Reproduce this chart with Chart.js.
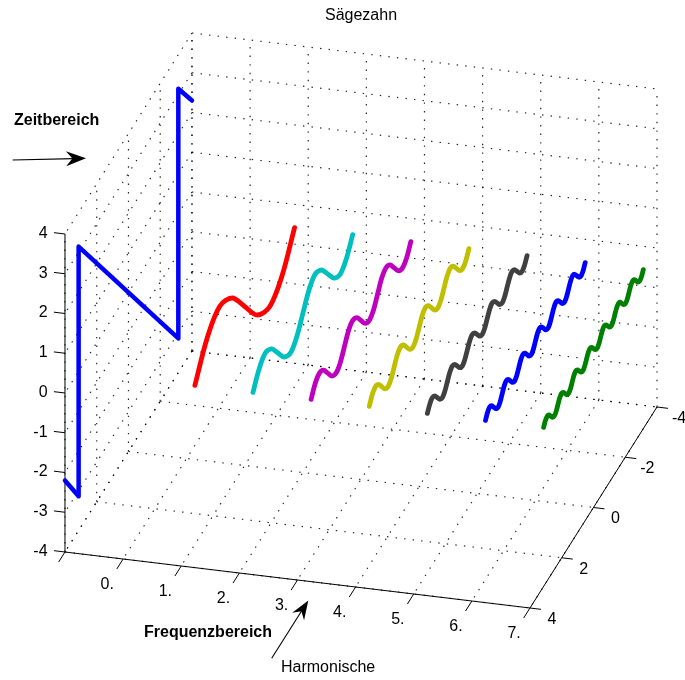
<!DOCTYPE html>
<html>
<head>
<meta charset="utf-8">
<script src="https://cdn.jsdelivr.net/npm/chart.js@4.4.0/dist/chart.umd.min.js"></script>
<style>
  html, body { margin: 0; padding: 0; background: #fff; }
  #wrap { width: 685px; height: 680px; }
</style>
</head>
<body>
<div id="wrap"><canvas id="chart" width="685" height="680"></canvas></div>
<script>
// Sägezahn: Zeitbereich (linke Wand) und die einzelnen Harmonischen

// Achsen
const xTicks = [-1, 0, 1, 2, 3, 4, 5, 6, 7];
const xTickLabels = ['', '0.', '1.', '2.', '3.', '4.', '5.', '6.', '7.'];
const yTicks = [-4, -2, 0, 2, 4];
const zTicks = [-4, -3, -2, -1, 0, 1, 2, 3, 4];

// Zeitbereich: Sägezahn in der Ebene x = -1
const sawTime = [4, 3.14, 3.14, -3.14, -3.14, -4];
const sawValue = [-2.2, -3.14, 3.14, -3.14, 3.14, 2.3];

// Harmonische: Position auf der Frequenzachse
const harmonicNr = [1, 2, 3, 4, 5, 6, 7];
const harmTimeFrom = -3.14;
const harmTimeTo = 3.14;

const harm1 = [0, -0.71, -1, -0.71, 0, 0.71, 1, 0.71, 0];
const harm2 = [
    0, -0.35, -0.5, -0.35, 0, 0.35, 0.5, 0.35,
    0, -0.35, -0.5, -0.35, 0, 0.35, 0.5, 0.35, 0];
const harm3 = [
    0, -0.24, -0.33, -0.24, 0, 0.24, 0.33, 0.24,
    0, -0.24, -0.33, -0.24, 0, 0.24, 0.33, 0.24,
    0, -0.24, -0.33, -0.24, 0, 0.24, 0.33, 0.24, 0];
const harm4 = [
    0, -0.18, -0.25, -0.18, 0, 0.18, 0.25, 0.18,
    0, -0.18, -0.25, -0.18, 0, 0.18, 0.25, 0.18,
    0, -0.18, -0.25, -0.18, 0, 0.18, 0.25, 0.18,
    0, -0.18, -0.25, -0.18, 0, 0.18, 0.25, 0.18, 0];
const harm5 = [
    0, -0.14, -0.2, -0.14, 0, 0.14, 0.2, 0.14,
    0, -0.14, -0.2, -0.14, 0, 0.14, 0.2, 0.14,
    0, -0.14, -0.2, -0.14, 0, 0.14, 0.2, 0.14,
    0, -0.14, -0.2, -0.14, 0, 0.14, 0.2, 0.14,
    0, -0.14, -0.2, -0.14, 0, 0.14, 0.2, 0.14, 0];
const harm6 = [
    0, -0.12, -0.17, -0.12, 0, 0.12, 0.17, 0.12,
    0, -0.12, -0.17, -0.12, 0, 0.12, 0.17, 0.12,
    0, -0.12, -0.17, -0.12, 0, 0.12, 0.17, 0.12,
    0, -0.12, -0.17, -0.12, 0, 0.12, 0.17, 0.12,
    0, -0.12, -0.17, -0.12, 0, 0.12, 0.17, 0.12,
    0, -0.12, -0.17, -0.12, 0, 0.12, 0.17, 0.12, 0];
const harm7 = [
    0, -0.1, -0.14, -0.1, 0, 0.1, 0.14, 0.1,
    0, -0.1, -0.14, -0.1, 0, 0.1, 0.14, 0.1,
    0, -0.1, -0.14, -0.1, 0, 0.1, 0.14, 0.1,
    0, -0.1, -0.14, -0.1, 0, 0.1, 0.14, 0.1,
    0, -0.1, -0.14, -0.1, 0, 0.1, 0.14, 0.1,
    0, -0.1, -0.14, -0.1, 0, 0.1, 0.14, 0.1,
    0, -0.1, -0.14, -0.1, 0, 0.1, 0.14, 0.1, 0];
const harmValues = [harm1, harm2, harm3, harm4, harm5, harm6, harm7];

// Farben wie die alte MATLAB-Farbreihenfolge
const sawColor = '#0000ff';
const harmColors = ['#ff0000', '#00bfbf', '#bf00bf', '#bfbf00', '#404040', '#0000ff', '#008000'];

// Orthographische Projektion der 3D-Achsen auf die Zeichenebene
const view = {
    ox: 186.6, oy: 299.5,
    ex: [58.125, 7.0],
    ey: [-15.875, 25.125],
    ez: [0, -39.75]
};
const xLim = [-1, 7], yLim = [-4, 4], zLim = [-4, 4];

function project(x, y, z) {
    return {
        x: view.ox + x * view.ex[0] + y * view.ey[0] + z * view.ez[0],
        y: view.oy + x * view.ex[1] + y * view.ey[1] + z * view.ez[1]
    };
}

const datasets = [];

function addLine(points3d, style) {
    datasets.push(Object.assign({
        data: points3d.map(p => project(p[0], p[1], p[2])),
        showLine: true,
        pointRadius: 0,
        fill: false,
        borderWidth: 1,
        borderColor: '#000',
        tension: 0,
        order: 5
    }, style));
}

// Gitter (gepunktet) auf Boden, Rückwand und linker Wand
const gridStyle = { borderColor: 'rgba(0,0,0,0.85)', borderWidth: 1.2, borderDash: [1.4, 7.2], order: 10 };
xTicks.forEach(x => {
    addLine([[x, yLim[0], zLim[0]], [x, yLim[1], zLim[0]]], gridStyle);
    addLine([[x, yLim[0], zLim[0]], [x, yLim[0], zLim[1]]], gridStyle);
});
yTicks.forEach(y => {
    addLine([[xLim[0], y, zLim[0]], [xLim[1], y, zLim[0]]], gridStyle);
    addLine([[xLim[0], y, zLim[0]], [xLim[0], y, zLim[1]]], gridStyle);
});
zTicks.forEach(z => {
    addLine([[xLim[0], yLim[0], z], [xLim[1], yLim[0], z]], gridStyle);
    addLine([[xLim[0], yLim[0], z], [xLim[0], yLim[1], z]], gridStyle);
});

// Achsenlinien und Striche
const axisStyle = { borderColor: '#000', borderWidth: 1, order: 4 };
addLine([[xLim[0], yLim[1], zLim[0]], [xLim[1], yLim[1], zLim[0]]], axisStyle);
addLine([[xLim[1], yLim[1], zLim[0]], [xLim[1], yLim[0], zLim[0]]], axisStyle);
addLine([[xLim[0], yLim[1], zLim[0]], [xLim[0], yLim[1], zLim[1]]], axisStyle);
xTicks.forEach(x => addLine([[x, yLim[1], zLim[0]], [x, yLim[1] + 0.4, zLim[0]]], axisStyle));
yTicks.forEach(y => addLine([[xLim[1], y, zLim[0]], [xLim[1] + 0.19, y, zLim[0]]], axisStyle));
zTicks.forEach(z => addLine([[xLim[0], yLim[1], z], [xLim[0] - 0.19, yLim[1], z]], axisStyle));

// Sägezahn
addLine(sawTime.map((t, i) => [xLim[0], t, sawValue[i]]), {
    borderColor: sawColor, borderWidth: 4.5, order: 1,
    borderCapStyle: 'round', borderJoinStyle: 'round'
});

// Harmonische
harmValues.forEach((vals, k) => {
    const step = (harmTimeTo - harmTimeFrom) / (vals.length - 1);
    addLine(vals.map((v, i) => [harmonicNr[k], harmTimeFrom + i * step, v]), {
        borderColor: harmColors[k], borderWidth: 4.8, order: 1, tension: 0.33,
        borderCapStyle: 'round', borderJoinStyle: 'round'
    });
});

function drawArrow(ctx, x0, y0, x1, y1, headLen, headWidth) {
    const a = Math.atan2(y1 - y0, x1 - x0);
    const c = Math.cos(a), s = Math.sin(a);
    ctx.beginPath();
    ctx.moveTo(x0, y0);
    ctx.lineTo(x1 - c * headLen * 0.6, y1 - s * headLen * 0.6);
    ctx.strokeStyle = '#000';
    ctx.lineWidth = 1.1;
    ctx.stroke();
    const bx = x1 - c * headLen, by = y1 - s * headLen;
    ctx.beginPath();
    ctx.moveTo(x1, y1);
    ctx.lineTo(bx - s * headWidth / 2, by + c * headWidth / 2);
    ctx.lineTo(x1 - c * headLen * 0.68, y1 - s * headLen * 0.68);
    ctx.lineTo(bx + s * headWidth / 2, by - c * headWidth / 2);
    ctx.closePath();
    ctx.fillStyle = '#000';
    ctx.fill();
}

const textPlugin = {
    id: 'axisText',
    afterDatasetsDraw(chart) {
        const ctx = chart.ctx;
        const sx = chart.scales.x, sy = chart.scales.y;
        const toPx = p => [sx.getPixelForValue(p.x), sy.getPixelForValue(p.y)];
        const font = 'Liberation Sans, Arial, Helvetica, sans-serif';
        ctx.save();
        ctx.fillStyle = '#000';
        ctx.font = '16px ' + font;

        ctx.textAlign = 'center';
        ctx.textBaseline = 'middle';
        xTicks.forEach((x, i) => {
            const [px, py] = toPx(project(x, yLim[1] + 1, zLim[0]));
            ctx.fillText(xTickLabels[i], px, py);
        });
        yTicks.forEach(y => {
            const [px, py] = toPx(project(xLim[1] + 0.38, y, zLim[0] - 0.22));
            ctx.fillText(String(y), px, py);
        });
        ctx.textAlign = 'right';
        zTicks.forEach(z => {
            const [px, py] = toPx(project(xLim[0] - 0.3, yLim[1], z));
            ctx.fillText(String(z), px, py + 1.5);
        });

        ctx.textBaseline = 'alphabetic';
        ctx.textAlign = 'center';
        ctx.fillText('Sägezahn', 361, 20);
        ctx.textAlign = 'left';
        ctx.fillText('Harmonische', 281, 671.5);
        ctx.font = 'bold 16px ' + font;
        ctx.fillText('Zeitbereich', 14, 125);
        ctx.fillText('Frequenzbereich', 144, 636.5);

        drawArrow(ctx, 12.7, 160, 86, 158.3, 20, 15);
        drawArrow(ctx, 271.7, 658.3, 308.3, 600.4, 19, 14);
        ctx.restore();
    }
};

new Chart(document.getElementById('chart'), {
    type: 'scatter',
    data: { datasets: datasets },
    options: {
        responsive: false,
        animation: false,
        events: [],
        layout: { padding: 0 },
        scales: {
            x: { type: 'linear', min: 0, max: 685, display: false },
            y: { type: 'linear', min: 0, max: 680, reverse: true, display: false }
        },
        plugins: {
            legend: { display: false },
            tooltip: { enabled: false },
            title: { display: false }
        }
    },
    plugins: [textPlugin]
});
</script>
</body>
</html>
